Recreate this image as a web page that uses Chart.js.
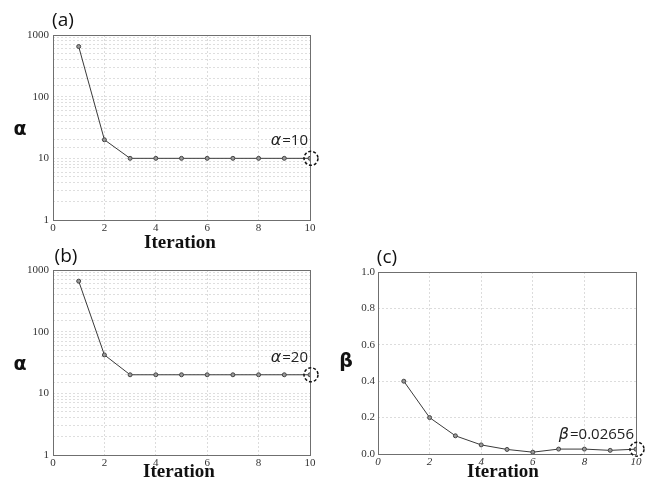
<!DOCTYPE html>
<html>
<head>
<meta charset="utf-8">
<script src="https://cdn.jsdelivr.net/npm/chart.js@4/dist/chart.umd.min.js"></script>
<style>
    body { margin: 0; background: #fff; width: 650px; height: 490px; position: relative; overflow: hidden; }
    canvas { position: absolute; }
    .lbl { position: absolute; transform: translate(-50%, -50%); white-space: nowrap; color: #111; }
    .panel { font-family: "Open Sans", "Noto Sans", sans-serif; font-size: 19px; }
    .sym { font-family: "DejaVu Sans", sans-serif; font-size: 19px; font-weight: bold; }
    .xt { font-family: "Liberation Serif", serif; font-size: 19px; font-weight: bold; }
</style>
</head>
<body>
<canvas id="chartA" width="330" height="235" style="left:0px;top:0px"></canvas>
<canvas id="chartB" width="330" height="235" style="left:0px;top:235px"></canvas>
<canvas id="chartC" width="330" height="235" style="left:320px;top:237px"></canvas>

<div class="lbl panel" style="left:63px;top:19px">(a)</div>
<div class="lbl sym" style="left:20px;top:128px">α</div>
<div class="lbl xt" style="left:180px;top:242px">Iteration</div>

<div class="lbl panel" style="left:66px;top:255px">(b)</div>
<div class="lbl sym" style="left:20px;top:363px">α</div>
<div class="lbl xt" style="left:179px;top:471px">Iteration</div>

<div class="lbl panel" style="left:387px;top:256px">(c)</div>
<div class="lbl sym" style="left:346px;top:360px">β</div>
<div class="lbl xt" style="left:503px;top:471px">Iteration</div>

<script>
const iterations = [1, 2, 3, 4, 5, 6, 7, 8, 9, 10];
const alphaA = [650, 20, 10, 10, 10, 10, 10, 10, 10, 10];
const alphaB = [660, 42, 20, 20, 20, 20, 20, 20, 20, 20];
const betaC = [0.4, 0.2, 0.1, 0.05, 0.025, 0.01, 0.027, 0.027, 0.02, 0.02656];
const logTickLabels = [1, 10, 100, 1000];
const finalNoteA = 'α=10';
const finalNoteB = 'α=20';
const finalNoteC = 'β=0.02656';

const tickFont = { family: 'Liberation Serif', size: 11 };

const framePlugin = {
    id: 'frame',
    beforeDatasetsDraw(chart) {
        const { ctx, chartArea } = chart;
        ctx.save();
        ctx.strokeStyle = '#6f6f6f';
        ctx.lineWidth = 1;
        ctx.strokeRect(chartArea.left + 0.5, chartArea.top + 0.5,
            chartArea.right - chartArea.left, chartArea.bottom - chartArea.top);
        ctx.restore();
    },
};

const notePlugin = {
    id: 'note',
    afterDatasetsDraw(chart, args, opts) {
        const { ctx } = chart;
        const pts = chart.data.datasets[0].data;
        const last = pts[pts.length - 1];
        const px = chart.scales.x.getPixelForValue(last.x);
        const py = chart.scales.y.getPixelForValue(last.y);
        ctx.save();
        ctx.setLineDash([3, 2]);
        ctx.strokeStyle = '#111';
        ctx.lineWidth = 1.5;
        ctx.beginPath();
        ctx.arc(px + 1, py, 7, 0, Math.PI * 2);
        ctx.stroke();
        ctx.setLineDash([]);
        ctx.fillStyle = '#222';
        ctx.textAlign = 'right';
        ctx.textBaseline = 'alphabetic';
        const sym = opts.text.charAt(0);
        const rest = opts.text.slice(1);
        ctx.font = '15px "Open Sans", sans-serif';
        const restW = ctx.measureText(rest).width;
        const right = px - 2;
        ctx.fillText(rest, right, py + opts.dy);
        ctx.font = 'italic 16px "DejaVu Sans", sans-serif';
        ctx.fillText(sym, right - restW - 1, py + opts.dy);
        ctx.restore();
    },
};

const makeDataset = (values) => ({
    data: iterations.map((x, i) => ({ x, y: values[i] })),
    borderColor: '#3a3a3a',
    borderWidth: 1,
    pointRadius: 2,
    pointBackgroundColor: '#9a9a9a',
    pointBorderColor: '#444',
    pointBorderWidth: 1,
    tension: 0,
});

const xScale = (italic) => ({
    type: 'linear',
    min: 0,
    max: 10,
    border: { display: false, dash: [2, 2] },
    grid: { color: '#dcdcdc', drawTicks: false },
    ticks: {
        stepSize: 2,
        padding: 2,
        color: '#333',
        font: { ...tickFont, style: italic ? 'italic' : 'normal' },
        maxRotation: 0,
    },
    afterFit: (scale) => { scale.height = 15; },
});

const logYScale = {
    type: 'logarithmic',
    min: 1,
    max: 1000,
    border: { display: false, dash: [2, 2] },
    grid: { color: '#dedede', drawTicks: false },
    ticks: {
        autoSkip: false,
        padding: 4,
        color: '#333',
        font: tickFont,
        callback: (value) => (logTickLabels.includes(value) ? String(value) : ''),
    },
    afterFit: (scale) => { scale.width = 53; },
};

const baseOptions = (yScale, italicX, note, dy, padding) => ({
    responsive: false,
    animation: false,
    layout: { padding },
    plugins: {
        legend: { display: false },
        tooltip: { enabled: false },
        note: { text: note, dy },
    },
    scales: {
        x: xScale(italicX),
        y: yScale,
    },
});

new Chart(document.getElementById('chartA'), {
    type: 'line',
    data: { datasets: [makeDataset(alphaA)] },
    options: baseOptions(logYScale, false, finalNoteA, -13, { top: 35, right: 20, left: 0, bottom: 0 }),
    plugins: [framePlugin, notePlugin],
});

new Chart(document.getElementById('chartB'), {
    type: 'line',
    data: { datasets: [makeDataset(alphaB)] },
    options: baseOptions(logYScale, false, finalNoteB, -13, { top: 35, right: 20, left: 0, bottom: 0 }),
    plugins: [framePlugin, notePlugin],
});

new Chart(document.getElementById('chartC'), {
    type: 'line',
    data: { datasets: [makeDataset(betaC)] },
    options: baseOptions({
        type: 'linear',
        min: 0,
        max: 1,
        border: { display: false, dash: [2, 2] },
        grid: { color: '#dcdcdc', drawTicks: false },
        ticks: {
            stepSize: 0.2,
            padding: 3,
            color: '#333',
            font: tickFont,
            callback: (value) => value.toFixed(1),
        },
        afterFit: (scale) => { scale.width = 58; },
    }, true, finalNoteC, -10, { top: 35, right: 14, left: 0, bottom: 3 }),
    plugins: [framePlugin, notePlugin],
});
</script>
</body>
</html>
